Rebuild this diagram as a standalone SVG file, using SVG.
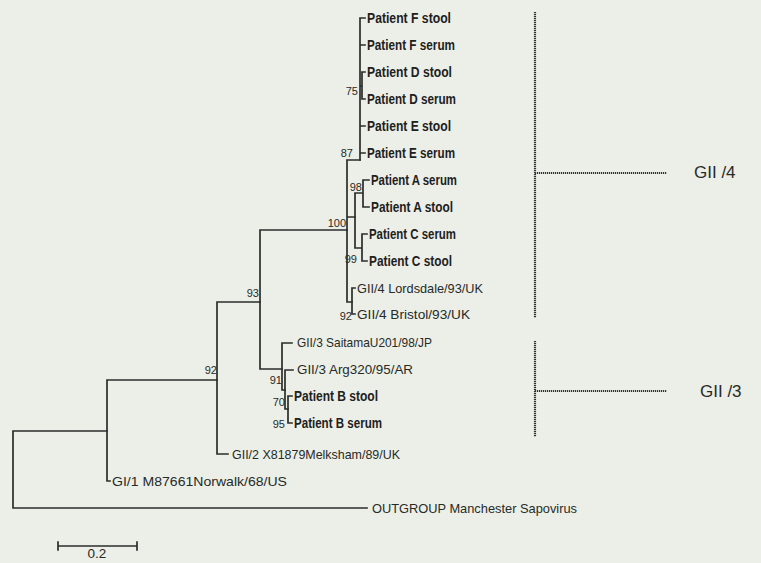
<svg xmlns="http://www.w3.org/2000/svg" width="761" height="563" viewBox="0 0 761 563">
<style>
.bg{fill:#eceee8}
.br{stroke:#2a2e2a;stroke-width:1.7;fill:none;stroke-linecap:square}
.dot{stroke:#2f332f;stroke-width:2.2;fill:none;stroke-dasharray:1.2 0.8}
.pb{font-family:"Liberation Sans",Arial,sans-serif;font-weight:bold;font-size:14px;fill:#1c211c}
.rg{font-family:"Liberation Sans",Arial,sans-serif;font-size:13.5px;fill:#262b26}
.bs{font-family:"Liberation Sans",Arial,sans-serif;font-size:11px;fill:#262b26;text-anchor:end}
.gl{font-family:"Liberation Sans",Arial,sans-serif;font-size:17px;fill:#262b26}
</style>
<rect class="bg" x="0" y="0" width="761" height="563"/>
<g id="connectors">
<path class="br" d="M13,431 V508 M13,431 H107 M13,508 H367"/>
<path class="br" d="M107,380 V481 H110 M107,380 H217"/>
<path class="br" d="M217,302 V454 H228 M217,302 H260"/>
<path class="br" d="M260,230 V369 H282 M260,230 H347"/>
<path class="br" d="M282,343 V390 H285 M282,343 H292"/>
<path class="br" d="M285,370 V409 H288 M285,370 H293"/>
<path class="br" d="M288,396 V423 M288,396 H292 M288,423 H292"/>
<path class="br" d="M347,160 V302 H352 M347,160 H360 M347,217 H355"/>
<path class="br" d="M352,288 V314 M352,288 H355 M352,314 H355"/>
<path class="br" d="M360,18 V160 M360,18 H365 M360,45 H365 M360,126 H365 M360,153 H365 M360,86 H362 M362,72 V99 M362,72 H365 M362,99 H365"/>
<path class="br" d="M355,193 V248 M355,193 H363 M363,180 V207 M363,180 H369 M363,207 H369 M355,248 H362 M362,234 V261 M362,234 H367 M362,261 H367"/>
<path class="dot" d="M535,12 V318 M535,173 H667"/>
<path class="dot" d="M535,341 V437 M535,391 H667"/>
<path class="br" d="M58,546 H137 M58,542 V550 M137,542 V550"/>
</g>
<g id="leaf-F-stool"><text class="pb" x="367" y="23" textLength="84" lengthAdjust="spacingAndGlyphs">Patient F stool</text></g>
<g id="leaf-F-serum"><text class="pb" x="367" y="50" textLength="88" lengthAdjust="spacingAndGlyphs">Patient F serum</text></g>
<g id="leaf-D-stool"><text class="pb" x="367" y="77" textLength="85" lengthAdjust="spacingAndGlyphs">Patient D stool</text></g>
<g id="leaf-D-serum"><text class="pb" x="367" y="104" textLength="89" lengthAdjust="spacingAndGlyphs">Patient D serum</text></g>
<g id="leaf-E-stool"><text class="pb" x="367" y="131" textLength="84" lengthAdjust="spacingAndGlyphs">Patient E stool</text></g>
<g id="leaf-E-serum"><text class="pb" x="367" y="158" textLength="88" lengthAdjust="spacingAndGlyphs">Patient E serum</text></g>
<g id="leaf-A-serum"><text class="pb" x="371" y="185" textLength="86" lengthAdjust="spacingAndGlyphs">Patient A serum</text></g>
<g id="leaf-A-stool"><text class="pb" x="371" y="212" textLength="82" lengthAdjust="spacingAndGlyphs">Patient A stool</text></g>
<g id="leaf-C-serum"><text class="pb" x="369" y="239" textLength="87" lengthAdjust="spacingAndGlyphs">Patient C serum</text></g>
<g id="leaf-C-stool"><text class="pb" x="369" y="266" textLength="83" lengthAdjust="spacingAndGlyphs">Patient C stool</text></g>
<g id="leaf-lordsdale"><text class="rg" x="357" y="293" textLength="126" lengthAdjust="spacingAndGlyphs">GII/4 Lordsdale/93/UK</text></g>
<g id="leaf-bristol"><text class="rg" x="357" y="319" textLength="113" lengthAdjust="spacingAndGlyphs">GII/4 Bristol/93/UK</text></g>
<g id="leaf-saitama"><text class="rg" x="297" y="347" textLength="135" lengthAdjust="spacingAndGlyphs">GII/3 SaitamaU201/98/JP</text></g>
<g id="leaf-arg"><text class="rg" x="297" y="374" textLength="116" lengthAdjust="spacingAndGlyphs">GII/3 Arg320/95/AR</text></g>
<g id="leaf-B-stool"><text class="pb" x="294" y="401" textLength="84" lengthAdjust="spacingAndGlyphs">Patient B stool</text></g>
<g id="leaf-B-serum"><text class="pb" x="294" y="428" textLength="88" lengthAdjust="spacingAndGlyphs">Patient B serum</text></g>
<g id="leaf-melksham"><text class="rg" x="232" y="459" textLength="168" lengthAdjust="spacingAndGlyphs">GII/2 X81879Melksham/89/UK</text></g>
<g id="leaf-norwalk"><text class="rg" x="112" y="486" textLength="175" lengthAdjust="spacingAndGlyphs">GI/1 M87661Norwalk/68/US</text></g>
<g id="leaf-outgroup"><text class="rg" x="372" y="513" textLength="205" lengthAdjust="spacingAndGlyphs">OUTGROUP Manchester Sapovirus</text></g>
<g id="node-75"><text class="bs" x="358" y="95">75</text></g>
<g id="node-87"><text class="bs" x="353" y="157">87</text></g>
<g id="node-98"><text class="bs" x="362" y="191">98</text></g>
<g id="node-100"><text class="bs" x="346" y="227">100</text></g>
<g id="node-99"><text class="bs" x="357" y="263">99</text></g>
<g id="node-92b"><text class="bs" x="352" y="320">92</text></g>
<g id="node-93"><text class="bs" x="259" y="297">93</text></g>
<g id="node-92a"><text class="bs" x="217" y="374">92</text></g>
<g id="node-91"><text class="bs" x="282" y="384">91</text></g>
<g id="node-70"><text class="bs" x="285" y="406">70</text></g>
<g id="node-95"><text class="bs" x="285" y="428">95</text></g>
<g id="genotype-GII4"><text class="gl" x="694" y="178">GII /4</text></g>
<g id="genotype-GII3"><text class="gl" x="700" y="397">GII /3</text></g>
<g id="scale"><text class="rg" x="97" y="558" text-anchor="middle" font-size="10">0.2</text></g>
</svg>
